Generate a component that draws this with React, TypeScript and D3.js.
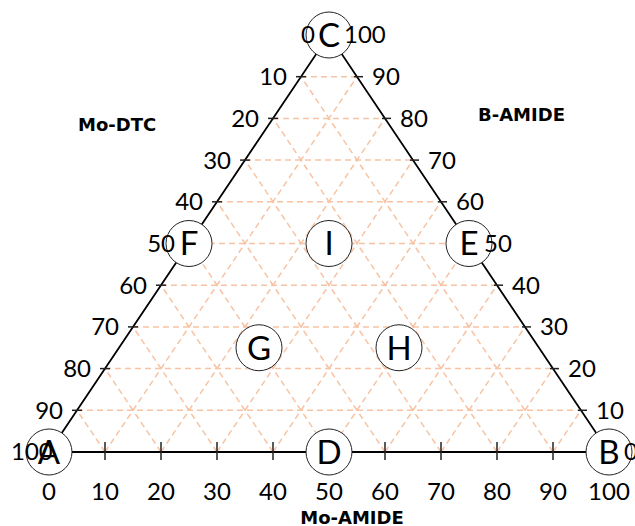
import React, { useEffect, useRef } from 'react';
import * as d3 from 'd3';

// percent ticks along each side
const tickValues = [0, 10, 20, 30, 40, 50, 60, 70, 80, 90, 100];
const gridValues = [10, 20, 30, 40, 50, 60, 70, 80, 90];

// labelled points, given as (B-share, C-share) in percent; A-share is the rest
const markerNames = ['A', 'B', 'C', 'D', 'E', 'F', 'G', 'H', 'I'];
const markerB = [0, 100, 0, 50, 50, 0, 25, 50, 25];
const markerC = [0, 0, 100, 0, 50, 50, 25, 25, 50];

const axisTitles = ['Mo-DTC', 'B-AMIDE', 'Mo-AMIDE'];

const WIDTH = 635;
const HEIGHT = 526;
const NUM_FONT = 'Lato, "Open Sans", sans-serif';
const TITLE_FONT = '"DejaVu Sans", Verdana, sans-serif';

const TernaryChart: React.FC = () => {
  const svgRef = useRef<SVGSVGElement>(null);

  useEffect(() => {
    if (!svgRef.current) return;
    const svg = d3.select(svgRef.current);
    svg.selectAll('*').remove();

    // x runs along the base, y up towards the C apex
    const xScale = d3.scaleLinear().domain([0, 100]).range([49, 609]);
    const yScale = d3.scaleLinear().domain([0, 100]).range([452, 35]);
    const px = (b: number, c: number) => xScale(b + c / 2);
    const py = (c: number) => yScale(c);

    const gridColor = '#f8c3a2';
    const grid = svg.append('g')
      .attr('fill', 'none')
      .attr('stroke', gridColor)
      .attr('stroke-width', 1.5)
      .attr('stroke-dasharray', '6,4');

    gridValues.forEach(v => {
      // constant C (horizontal)
      grid.append('line')
        .attr('x1', px(0, v)).attr('y1', py(v))
        .attr('x2', px(100 - v, v)).attr('y2', py(v));
      // constant B (parallel to left side)
      grid.append('line')
        .attr('x1', px(v, 0)).attr('y1', py(0))
        .attr('x2', px(v, 100 - v)).attr('y2', py(100 - v));
      // constant A (parallel to right side)
      grid.append('line')
        .attr('x1', px(100 - v, 0)).attr('y1', py(0))
        .attr('x2', px(0, 100 - v)).attr('y2', py(100 - v));
    });

    // Triangle frame
    svg.append('path')
      .attr('d', d3.line()([
        [px(0, 0), py(0)],
        [px(100, 0), py(0)],
        [px(0, 100), py(100)],
        [px(0, 0), py(0)],
      ]))
      .attr('fill', 'none')
      .attr('stroke', '#000')
      .attr('stroke-width', 1.8);

    // Ticks
    const ticks = svg.append('g').attr('stroke', '#222').attr('stroke-width', 1.5);
    gridValues.forEach(v => {
      ticks.append('line')
        .attr('x1', px(v, 0)).attr('x2', px(v, 0))
        .attr('y1', py(0) - 10).attr('y2', py(0) + 8);
      const lx = px(0, v);
      ticks.append('line')
        .attr('x1', lx - 5).attr('x2', lx + 5)
        .attr('y1', py(v)).attr('y2', py(v));
      const rx = px(100 - v, v);
      ticks.append('line')
        .attr('x1', rx - 3).attr('x2', rx + 6)
        .attr('y1', py(v)).attr('y2', py(v));
    });

    // Marker circles
    const markers = svg.append('g');
    markerNames.forEach((name, i) => {
      const cx = px(markerB[i], markerC[i]);
      const cy = py(markerC[i]);
      markers.append('circle')
        .attr('cx', cx).attr('cy', cy).attr('r', 23)
        .attr('fill', '#fff')
        .attr('stroke', '#222')
        .attr('stroke-width', 1);
      markers.append('text')
        .attr('x', cx).attr('y', cy)
        .attr('dy', '0.36em')
        .attr('text-anchor', 'middle')
        .attr('font-family', NUM_FONT)
        .attr('font-size', 33)
        .attr('fill', '#000')
        .text(name);
    });

    // Tick labels
    const labels = svg.append('g')
      .attr('font-family', NUM_FONT)
      .attr('font-size', 24)
      .attr('fill', '#000');

    tickValues.forEach(v => {
      // bottom: Mo-AMIDE, 0 at A -> 100 at B
      labels.append('text')
        .attr('x', px(v, 0)).attr('y', 500)
        .attr('text-anchor', 'middle')
        .text(v);

      // left: Mo-DTC, 0 at C -> 100 at A
      const c = 100 - v;
      const wide = String(v).length > 2;
      labels.append('text')
        .attr('x', wide ? px(0, c) - 38 : px(0, c) - 14)
        .attr('y', py(c))
        .attr('dy', '0.35em')
        .attr('text-anchor', wide ? 'start' : 'end')
        .text(v);

      // right: B-AMIDE, 0 at B -> 100 at C
      labels.append('text')
        .attr('x', px(100 - v, v) + 15)
        .attr('y', py(v))
        .attr('dy', '0.35em')
        .attr('text-anchor', 'start')
        .text(v);
    });

    // Axis titles
    const titles = svg.append('g')
      .attr('font-family', TITLE_FONT)
      .attr('font-weight', 'bold')
      .attr('font-size', 18)
      .attr('fill', '#000');
    titles.append('text').attr('x', 78).attr('y', 131).text(axisTitles[0]);
    titles.append('text').attr('x', 478).attr('y', 121).text(axisTitles[1]);
    titles.append('text').attr('x', 352).attr('y', 524).attr('text-anchor', 'middle').text(axisTitles[2]);
  }, []);

  return (
    <svg
      ref={svgRef}
      width={WIDTH}
      height={HEIGHT}
      style={{ position: 'absolute', left: 0, top: 0, background: '#fff' }}
    />
  );
};

export default function App() {
  return <TernaryChart />;
}
